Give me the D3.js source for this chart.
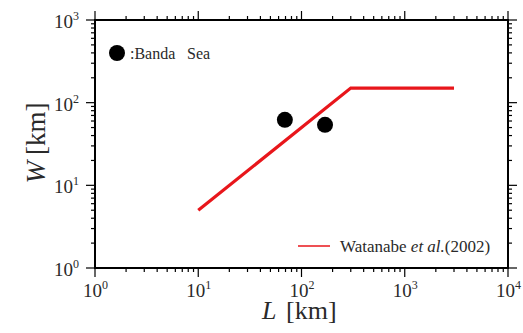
<!DOCTYPE html>
<html>
<head>
<meta charset="utf-8">
<script src="https://cdn.jsdelivr.net/npm/d3@7"></script>
<style>
  html, body { margin: 0; padding: 0; background: #fff; }
  svg { display: block; }
</style>
</head>
<body>
<svg id="chart" width="523" height="333"></svg>
<script>
// Fault length L vs width W (km), log-log
const decades = [0, 1, 2, 3, 4];           // x tick exponents
const yDecades = [0, 1, 2, 3];             // y tick exponents
const bandaL = [69, 169];
const bandaW = [62, 54];
const watanabeL = [10, 300, 3000];
const watanabeW = [5, 150, 150];
const legendLabels = [":Banda", "Sea", "Watanabe", "et al.", "(2002)"];

const serif = "Liberation Serif";
const svg = d3.select("#chart").attr("font-family", serif);
const plotL = 95, plotR = 508, plotT = 20, plotB = 268;

const x = d3.scaleLog().domain([1, 1e4]).range([plotL, plotR]);
const y = d3.scaleLog().domain([1, 1e3]).range([plotB, plotT]);

// minor/major tick values
const xMinor = [], yMinor = [];
decades.slice(0, -1).forEach(e => { for (let m = 2; m <= 9; m++) xMinor.push(m * Math.pow(10, e)); });
yDecades.slice(0, -1).forEach(e => { for (let m = 2; m <= 9; m++) yMinor.push(m * Math.pow(10, e)); });
const xMajor = decades.map(e => Math.pow(10, e));
const yMajor = yDecades.map(e => Math.pow(10, e));

const majorLen = 9, minorLen = 4;
const tickG = svg.append("g").attr("stroke", "#000").attr("stroke-width", 1.2);

// bottom and top ticks (outward)
[[plotB, 1], [plotT, -1]].forEach(([yy, dir]) => {
  tickG.selectAll(null).data(xMinor).join("line")
    .attr("x1", d => x(d)).attr("x2", d => x(d))
    .attr("y1", yy).attr("y2", yy + dir * minorLen);
  tickG.selectAll(null).data(xMajor).join("line")
    .attr("x1", d => x(d)).attr("x2", d => x(d))
    .attr("y1", yy).attr("y2", yy + dir * majorLen);
});
// left and right ticks (outward)
[[plotL, -1], [plotR, 1]].forEach(([xx, dir]) => {
  tickG.selectAll(null).data(yMinor).join("line")
    .attr("y1", d => y(d)).attr("y2", d => y(d))
    .attr("x1", xx).attr("x2", xx + dir * minorLen);
  tickG.selectAll(null).data(yMajor).join("line")
    .attr("y1", d => y(d)).attr("y2", d => y(d))
    .attr("x1", xx).attr("x2", xx + dir * majorLen);
});

// frame
svg.append("rect")
  .attr("x", plotL).attr("y", plotT)
  .attr("width", plotR - plotL).attr("height", plotB - plotT)
  .attr("fill", "none").attr("stroke", "#000").attr("stroke-width", 2);

// tick labels
const xl = svg.append("g").attr("font-size", 19).attr("fill", "#2a2a2a");
xl.selectAll("text").data(decades).join("text")
  .attr("x", d => x(Math.pow(10, d)) + 0.5)
  .attr("y", 297)
  .attr("text-anchor", "middle")
  .each(function (d) {
    const t = d3.select(this);
    t.append("tspan").text("10");
    t.append("tspan").attr("font-size", 12).attr("dy", -8).text(d);
  });

const yl = svg.append("g").attr("font-size", 19).attr("fill", "#2a2a2a");
yl.selectAll("text").data(yDecades).join("text")
  .attr("x", 79)
  .attr("y", d => y(Math.pow(10, d)) + 8)
  .attr("text-anchor", "end")
  .each(function (d) {
    const t = d3.select(this);
    t.append("tspan").text("10");
    t.append("tspan").attr("font-size", 12).attr("dy", -8).text(d);
  });

// axis titles
const xt = svg.append("text").attr("x", 262).attr("y", 319)
  .attr("font-size", 26).attr("fill", "#2a2a2a");
xt.append("tspan").attr("font-style", "italic").text("L");
xt.append("tspan").attr("x", 286).text("[km]");

const yt = svg.append("text")
  .attr("transform", "translate(45,143) rotate(-90)")
  .attr("text-anchor", "middle")
  .attr("font-size", 27).attr("fill", "#2a2a2a");
yt.append("tspan").attr("font-style", "italic").text("W");
yt.append("tspan").attr("dx", 6).text("[km]");

// Watanabe et al. (2002) scaling line
const line = d3.line().x(d => x(d[0])).y(d => y(d[1]));
svg.append("path")
  .datum(watanabeL.map((l, i) => [l, watanabeW[i]]))
  .attr("d", line)
  .attr("fill", "none").attr("stroke", "#e8161b").attr("stroke-width", 3.2);

// Banda Sea events
svg.selectAll("circle.ev").data(bandaL.map((l, i) => [l, bandaW[i]])).join("circle")
  .attr("class", "ev")
  .attr("cx", d => x(d[0])).attr("cy", d => y(d[1]))
  .attr("r", 8).attr("fill", "#000");

// legends
svg.append("circle").attr("cx", 117).attr("cy", 53).attr("r", 8).attr("fill", "#000");
const bl = svg.append("text").attr("y", 58.5).attr("font-size", 16).attr("fill", "#2a2a2a");
bl.append("tspan").attr("x", 130).text(legendLabels[0]);
bl.append("tspan").attr("x", 187).text(legendLabels[1]);

svg.append("line").attr("x1", 298).attr("x2", 330).attr("y1", 246).attr("y2", 246)
  .attr("stroke", "#e8161b").attr("stroke-width", 1.5);
const wl = svg.append("text").attr("x", 340).attr("y", 252).attr("font-size", 17).attr("fill", "#2a2a2a");
wl.append("tspan").text(legendLabels[2] + " ");
wl.append("tspan").attr("font-style", "italic").text(legendLabels[3]);
wl.append("tspan").text(legendLabels[4]);
</script>
</body>
</html>
